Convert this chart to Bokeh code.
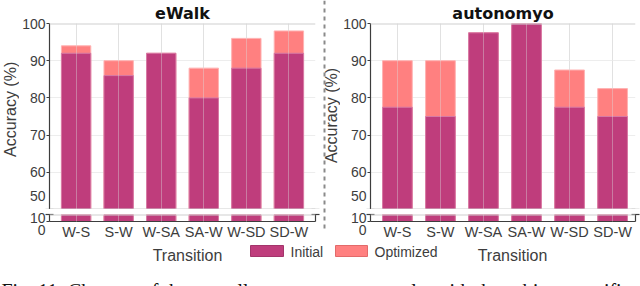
import math
from bokeh.plotting import figure
from bokeh.layouts import column, row
from bokeh.models import (Range1d, FixedTicker, Span, ColumnDataSource,
                          Grid, LinearAxis, BoxAnnotation)
from bokeh.core.properties import value
from bokeh.embed import file_html
from bokeh.resources import INLINE

# ---------------- data ----------------
transitions = ["W-S", "S-W", "W-SA", "SA-W", "W-SD", "SD-W"]
ewalk_initial = [92, 86, 92, 80, 88, 92]
ewalk_optimized = [94, 90, 92, 88, 96, 98]
auto_initial = [77.5, 75, 97.5, 100, 77.5, 75]
auto_optimized = [90, 90, 97.5, 100, 87.5, 82.5]
upper_ticks = [50, 60, 70, 80, 90, 100]
lower_ticks = [0, 10]
upper_limits = (50, 100)
lower_limits = (0, 10)
series_names = ["Initial", "Optimized"]
panel_titles = ["eWalk", "autonomyo"]
x_label = "Transition"
y_label = "Accuracy (%)"
caption = "Fig. 11: Changes of the overall mean accuracy results with the subject-specific"

# ---------------- style ----------------
INIT = "#bf3d7c"
INIT_EDGE = "#d77aa5"
OPT = "#ff8080"
OPT_EDGE = "#ffb2b2"
DARK = "#3d3d3d"
LIGHT = "#cfcfcf"
SANS = "Liberation Sans"
BAR_W = 0.69
STEP = 43.2  # pixels per category


def strip(w, h, bottom=0):
    s = figure(width=w, height=h, x_range=Range1d(0, w),
               y_range=Range1d(h - bottom, 0), output_backend="svg",
               toolbar_location=None, x_axis_location=None,
               y_axis_location=None, min_border_left=0, min_border_right=0,
               min_border_top=0, min_border_bottom=bottom,
               outline_line_color=None)
    s.grid.visible = False
    return s


def put_text(p, xs, ys, texts, size, font=SANS, color=DARK, align="left",
             baseline="alphabetic", angle=0.0, style="normal"):
    p.text(x=xs, y=ys, text=texts, text_font=value(font),
           text_font_size=value(size), text_color=color, text_align=align,
           text_baseline=baseline, angle=angle, text_font_style=style)


def style_yaxis(ax, line_height):
    ax.axis_line_color = DARK
    ax.axis_line_width = 1.2
    ax.major_tick_out = 3
    ax.major_tick_in = 0
    ax.major_tick_line_color = DARK
    ax.minor_tick_out = 4
    ax.minor_tick_in = 4
    ax.minor_tick_line_color = DARK
    ax.minor_tick_line_width = 1.2
    ax.major_label_standoff = 0
    ax.major_label_text_font = SANS
    ax.major_label_text_font_size = "14px"
    ax.major_label_text_color = DARK
    ax.major_label_text_line_height = line_height


def right_marks(p, minor, line_color):
    ax = LinearAxis(ticker=FixedTicker(ticks=[], minor_ticks=[minor]))
    ax.axis_line_color = line_color
    ax.axis_line_width = 1.2
    ax.major_tick_out = 0
    ax.major_tick_in = 0
    ax.minor_tick_out = 4
    ax.minor_tick_in = 4
    ax.minor_tick_line_color = DARK
    ax.minor_tick_line_width = 1.2
    ax.major_label_text_font_size = "0px"
    p.add_layout(ax, "right")


def make_panel(title, title_offset, init, opt, width, left_border, right_border):
    xs = list(range(len(transitions)))
    src = ColumnDataSource(dict(x=xs, initial=init, optimized=opt))
    frame_w = width - left_border - right_border
    xr = Range1d(-0.625, -0.625 + frame_w / STEP)

    pt = figure(width=width, height=209, x_range=xr,
                y_range=Range1d(*upper_limits), output_backend="svg",
                toolbar_location=None, x_axis_location=None,
                min_border_left=left_border, min_border_right=right_border,
                min_border_top=21, min_border_bottom=0,
                outline_line_color=None, title=title)
    pt.title.align = "center"
    pt.title.offset = title_offset
    pt.title.standoff = 2
    pt.title.text_font = "DejaVu Sans"
    pt.title.text_font_size = "16px"
    pt.title.text_font_style = "bold"
    pt.title.text_color = "#111111"

    pb = figure(width=width, height=33, x_range=xr,
                y_range=Range1d(*lower_limits), output_backend="svg",
                toolbar_location=None,
                min_border_left=left_border, min_border_right=right_border,
                min_border_top=5, min_border_bottom=19,
                outline_line_color=None)

    for p in (pt, pb):
        p.vbar(x="x", top="optimized", bottom=0, width=BAR_W, source=src,
               fill_color=OPT, line_color=OPT_EDGE, line_width=1)
        p.vbar(x="x", top="initial", bottom=0, width=BAR_W, source=src,
               fill_color=INIT, line_color=INIT_EDGE, line_width=1)

    # upper segment ("50" is lifted above the break like in the original)
    pt.yaxis.ticker = FixedTicker(ticks=upper_ticks, minor_ticks=[upper_limits[0]])
    pt.yaxis.major_label_overrides = {upper_ticks[0]: str(upper_ticks[0]) + "\n"}
    style_yaxis(pt.yaxis[0], 0.33)
    pt.ygrid.grid_line_color = "#ededed"
    pt.add_layout(Grid(dimension=0, ticker=FixedTicker(ticks=xs),
                       grid_line_color="#dcdcdc", grid_line_alpha=0.4,
                       level="overlay"))
    for loc in upper_limits:
        pt.add_layout(Span(location=loc, dimension="width",
                           line_color=LIGHT, line_width=2))
    right_marks(pt, upper_limits[0], None)

    # lower segment ("0" is pushed below the axis like in the original)
    pb.yaxis.ticker = FixedTicker(ticks=lower_ticks, minor_ticks=[lower_limits[1]])
    pb.yaxis.major_label_overrides = {lower_ticks[0]: "\n\n" + str(lower_ticks[0])}
    style_yaxis(pb.yaxis[0], 0.4)
    pb.ygrid.grid_line_color = None
    pb.xaxis.ticker = FixedTicker(ticks=xs)
    pb.xaxis.major_label_overrides = {i: t for i, t in enumerate(transitions)}
    pb.xaxis.axis_line_color = DARK
    pb.xaxis.axis_line_width = 1.2
    pb.xaxis.major_tick_out = 0
    pb.xaxis.major_tick_in = 0
    pb.xaxis.minor_tick_out = 0
    pb.xaxis.minor_tick_in = 0
    pb.xaxis.major_label_standoff = 2
    pb.xaxis.major_label_text_font = SANS
    pb.xaxis.major_label_text_font_size = "14.5px"
    pb.xaxis.major_label_text_color = DARK
    pb.xgrid.grid_line_color = "#dcdcdc"
    pb.xgrid.grid_line_alpha = 0.4
    pb.xgrid.level = "overlay"
    pb.add_layout(Span(location=lower_limits[1], dimension="width",
                       line_color=LIGHT, line_width=2))
    right_marks(pb, lower_limits[1], DARK)
    return pt, pb


lt, lb = make_panel(panel_titles[0], 4, ewalk_initial, ewalk_optimized, 301, 26, 5)
rt, rb = make_panel(panel_titles[1], 3, auto_initial, auto_optimized, 300, 29, 5)

DASH = dict(line_color="#8a8a8a", line_width=2, line_dash="4 4")

# left strip: y label of first panel
lstrip = strip(19, 242)
put_text(lstrip, [10], [115], [y_label], "16px", align="center",
         baseline="middle", angle=math.pi / 2)

# middle strip: dashed separator + y label of second panel
mstrip = strip(20, 242, bottom=13)
mstrip.add_layout(Span(location=4, dimension="height", **DASH))
put_text(mstrip, [11], [115], [y_label], "16px", align="center",
         baseline="middle", angle=math.pi / 2)

# bottom strip: axis titles, legend, caption
bot = strip(640, 44)
put_text(bot, [187, 512], [13, 13], [x_label, x_label], "16px", align="center")
legend_spec = [(250, 283, 290, INIT, "#a3356b"), (335, 367, 374, OPT, "#e26a6a")]
for (x0, x1, tx, fc, lc) in legend_spec:
    bot.add_layout(BoxAnnotation(left=x0, right=x1, top=3, bottom=14,
                                 fill_color=fc, fill_alpha=1.0,
                                 line_color=lc, line_alpha=1.0, line_width=1))
put_text(bot, [s[2] for s in legend_spec], [9, 9], series_names, "14px",
         baseline="middle")
put_text(bot, [1], [48], [caption], "20px", font="Liberation Serif",
         color="#111111")

layout = column(row(lstrip, column(lt, lb), mstrip, column(rt, rb)), bot)

open("out.html", "w").write(file_html(layout, INLINE))
